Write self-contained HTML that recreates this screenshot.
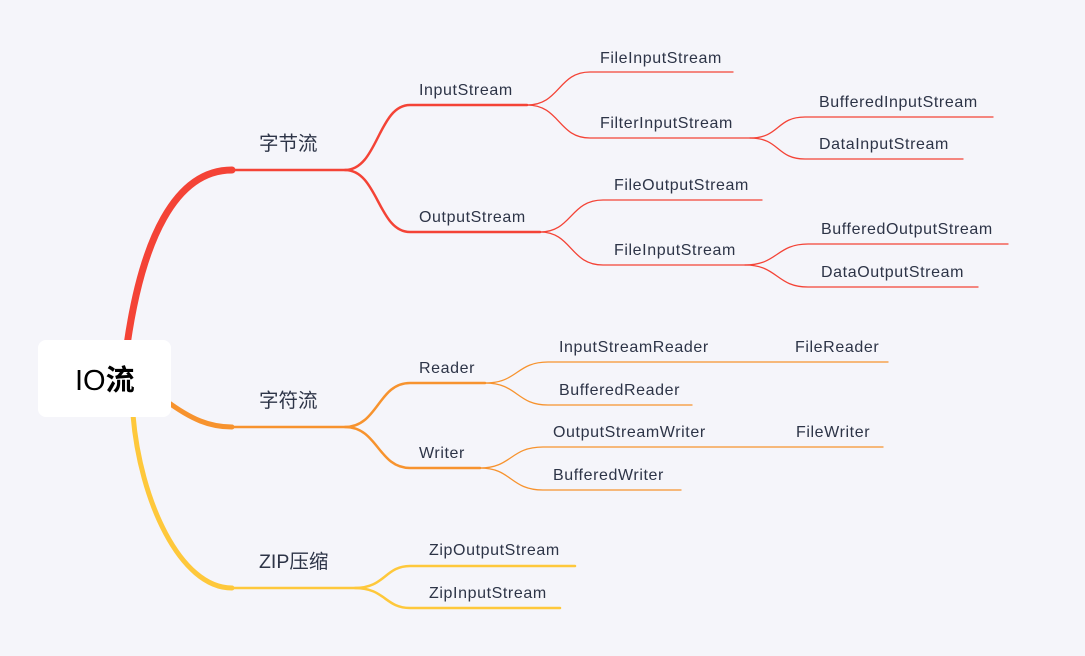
<!DOCTYPE html>
<html><head><meta charset="utf-8"><style>
html,body{margin:0;padding:0;background:#f5f5fa;}
svg{display:block}
text{font-family:"Liberation Sans","Noto Sans CJK SC",sans-serif;fill:#2d3447;font-size:16px;letter-spacing:0.6px}
.l1{font-size:19.5px;letter-spacing:0}
</style></head><body>
<svg width="1085" height="656" viewBox="0 0 1085 656">
<rect width="1085" height="656" fill="#f5f5fa"/>
<g fill="none" stroke-linecap="round">
<path d="M127 345 C142 240 175 170 232 170" stroke="#f44336" stroke-width="7"/>
<path d="M165 400 C192 420 210 427 232 427" stroke="#f7932e" stroke-width="5"/>
<path d="M133 415 C140 500 180 588 232 588" stroke="#fec83b" stroke-width="5"/>
<g stroke="#f44336" stroke-width="2.5">
<path d="M232 170 H345 C378 170 378 105 410 105 H527"/>
<path d="M345 170 C378 170 378 232 410 232 H540"/>
</g>
<g stroke="#f44336" stroke-width="1.3">
<path d="M527 105 C560 105 558 72 590 72 H733"/>
<path d="M527 105 C560 105 558 138 590 138 H750"/>
<path d="M750 138 C780 138 776 117 805 117 H993"/>
<path d="M750 138 C780 138 776 159 805 159 H963"/>
<path d="M540 232 C572 232 570 200 603 200 H762"/>
<path d="M540 232 C572 232 570 265 603 265 H745"/>
<path d="M745 265 C778 265 776 244 808 244 H1008"/>
<path d="M745 265 C778 265 776 287 808 287 H978"/>
</g>
<g stroke="#f7932e" stroke-width="2.5">
<path d="M232 427 H345 C378 427 378 383 410 383 H485"/>
<path d="M345 427 C378 427 378 468 410 468 H480"/>
</g>
<g stroke="#f7932e" stroke-width="1.3">
<path d="M485 383 C518 383 516 362 548 362 H888"/>
<path d="M485 383 C518 383 516 405 548 405 H692"/>
<path d="M480 468 C512 468 510 447 543 447 H883"/>
<path d="M480 468 C512 468 510 490 543 490 H681"/>
</g>
<g stroke="#fec83b" stroke-width="2.5">
<path d="M232 588 H355 C385 588 385 566 410 566 H575"/>
<path d="M355 588 C385 588 385 608 410 608 H560"/>
</g>
</g>
<rect x="38" y="340" width="133" height="77" rx="8" fill="#fff"/>
<text x="75" y="390" style="font-size:29px;fill:#000;letter-spacing:0">IO<tspan style="font-weight:bold">流</tspan></text>
<text class="l1" x="259" y="150">字节流</text>
<text class="l1" x="259" y="407">字符流</text>
<text class="l1" x="259" y="568">ZIP压缩</text>
<text x="419" y="95">InputStream</text>
<text x="419" y="222">OutputStream</text>
<text x="419" y="373">Reader</text>
<text x="419" y="458">Writer</text>
<text x="429" y="555">ZipOutputStream</text>
<text x="429" y="598">ZipInputStream</text>
<text x="600" y="63">FileInputStream</text>
<text x="600" y="128">FilterInputStream</text>
<text x="819" y="107">BufferedInputStream</text>
<text x="819" y="149">DataInputStream</text>
<text x="614" y="190">FileOutputStream</text>
<text x="614" y="255">FileInputStream</text>
<text x="821" y="234">BufferedOutputStream</text>
<text x="821" y="277">DataOutputStream</text>
<text x="559" y="352">InputStreamReader</text>
<text x="795" y="352">FileReader</text>
<text x="559" y="395">BufferedReader</text>
<text x="553" y="437">OutputStreamWriter</text>
<text x="796" y="437">FileWriter</text>
<text x="553" y="480">BufferedWriter</text>
</svg>
</body></html>
